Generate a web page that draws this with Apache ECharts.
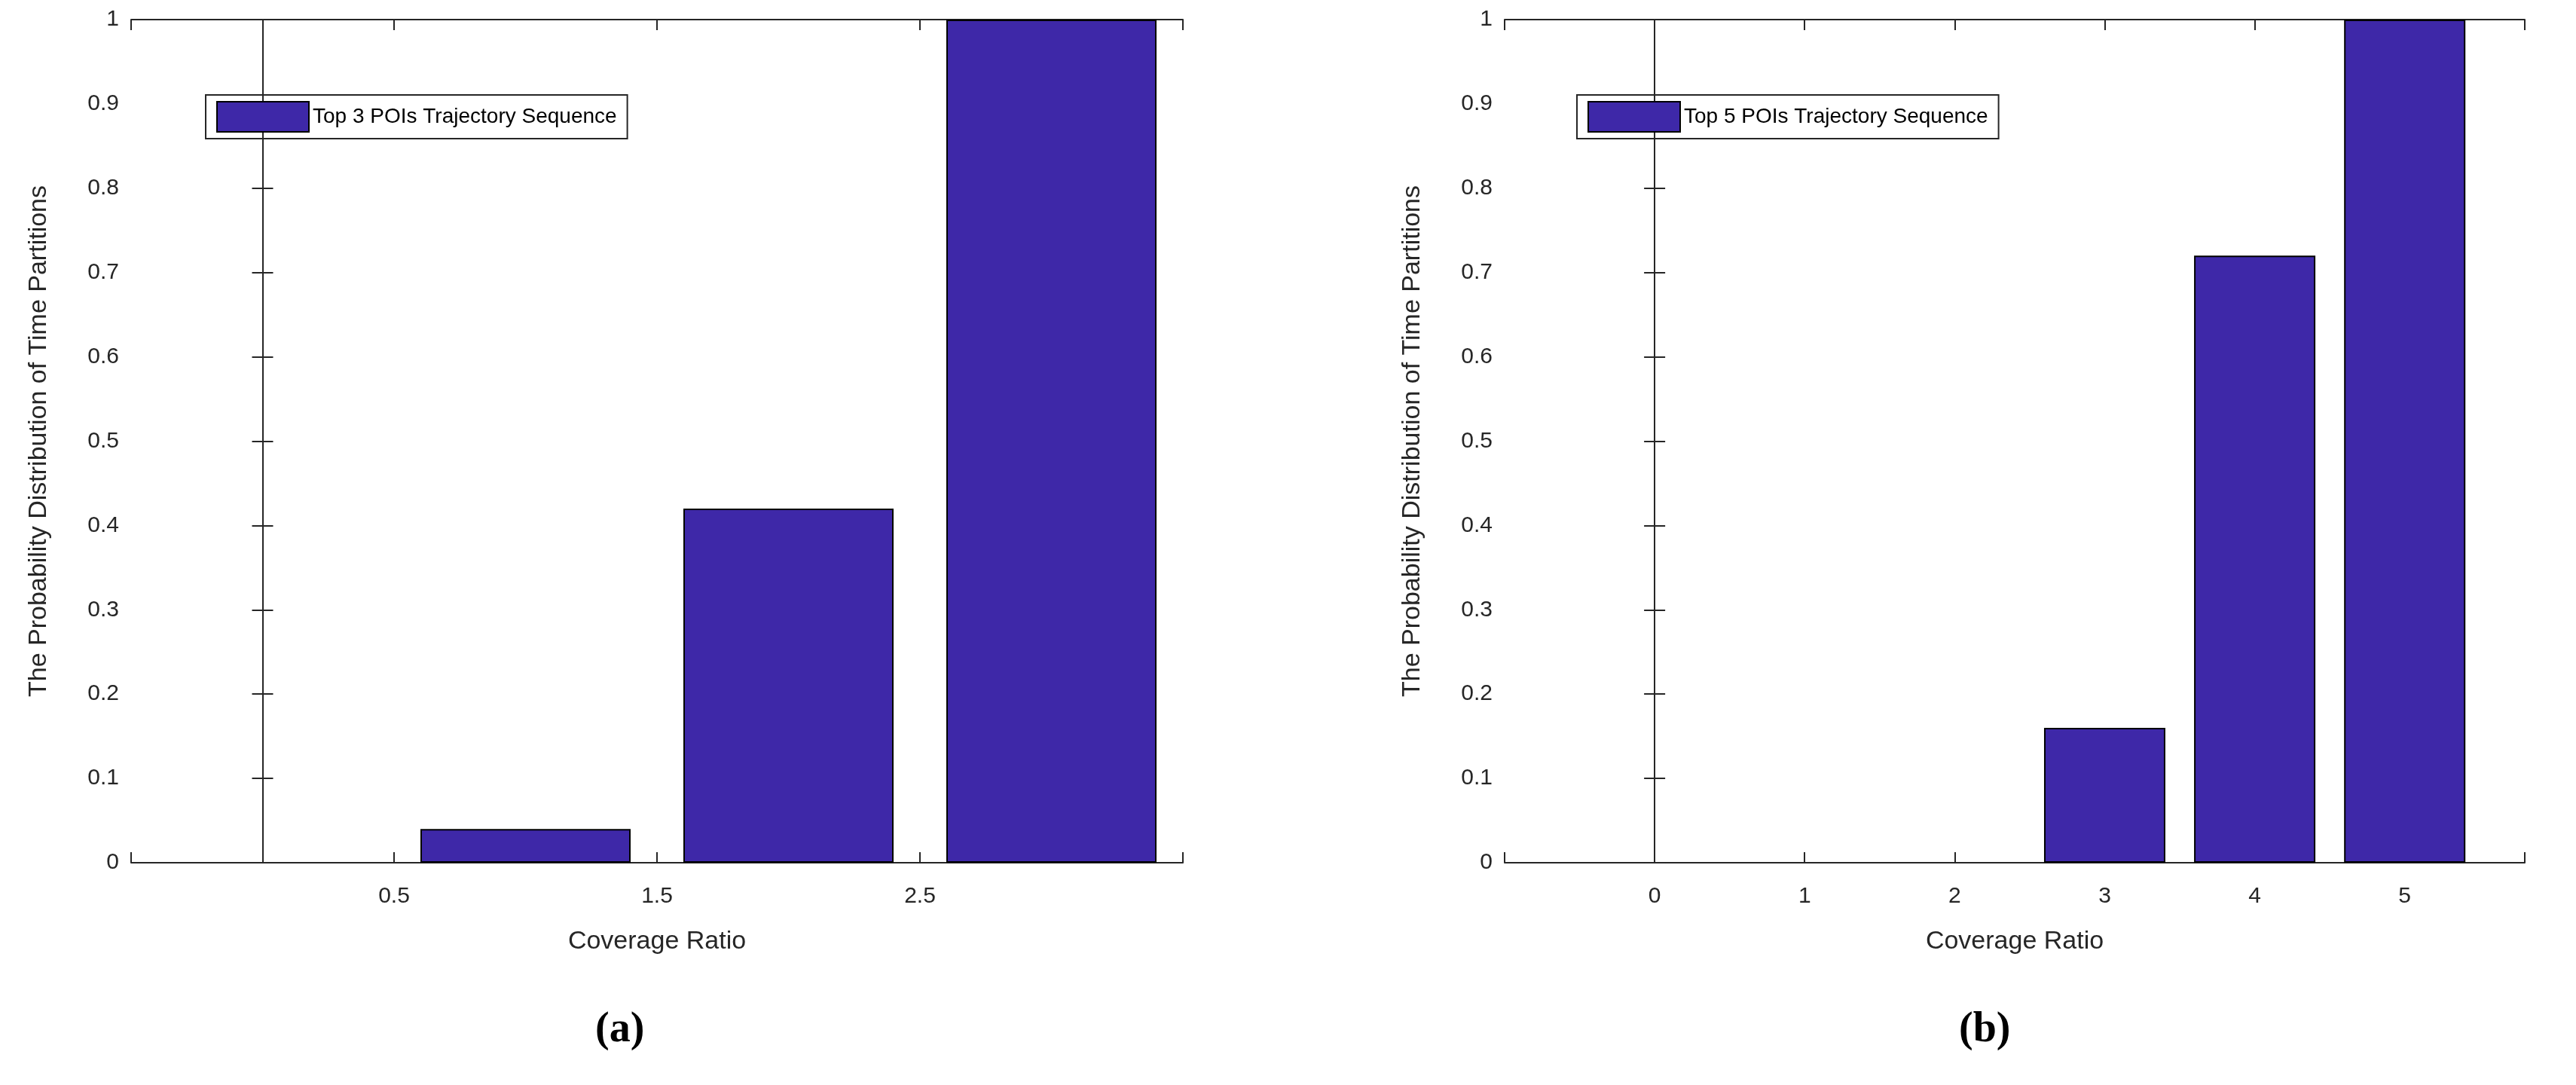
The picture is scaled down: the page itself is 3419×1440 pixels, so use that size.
<!DOCTYPE html>
<html><head><meta charset="utf-8">
<script src="https://cdn.jsdelivr.net/npm/echarts@6/dist/echarts.min.js"></script>
<style>html,body{margin:0;background:#fff}#box{width:3419px;height:1440px}</style>
</head><body><div id="box"></div>
<script>
// data
var ratioA = [0, 1, 2, 3];
var probA = [0, 0.04, 0.42, 1];
var ratioB = [0, 1, 2, 3, 4, 5];
var probB = [0, 0, 0, 0.16, 0.72, 1];
var nameA = 'Top 3 POIs Trajectory Sequence';
var nameB = 'Top 5 POIs Trajectory Sequence';

function pairs(xs, ys){
    var out = [];
    for (var i = 0; i < xs.length; i++) {
        if (ys[i] > 0) out.push([xs[i], ys[i]]);
    }
    return out;
}

var txt = '#262626', font = 'Liberation Sans';
function xAx(idx, min, max, pos){
    return {type:'value', gridIndex:idx, min:min, max:max, interval:1, position:pos,
        name: pos == 'bottom' ? 'Coverage Ratio' : '', nameLocation:'middle', nameGap:88,
        nameTextStyle:{fontSize:34, color:txt, fontFamily:font},
        axisLine:{show:true, onZero:false, lineStyle:{color:txt, width:2}},
        axisTick:{show:true, inside:true, length:14, lineStyle:{color:txt, width:2}},
        axisLabel:{show: pos == 'bottom', fontSize:30, color:txt, fontFamily:font, margin:30,
            formatter:function(v){ return (v < 0 || v > max - 0.5) ? '' : v; }},
        splitLine:{show:false}};
}
function yAx(idx, pos){
    return {type:'value', gridIndex:idx, min:0, max:1, interval:0.1, position:pos,
        name: pos == 'left' ? 'The Probability Distribution of Time Partitions' : '',
        nameLocation:'middle', nameGap:105,
        nameTextStyle:{fontSize:34, color:txt, fontFamily:font},
        axisLine:{show:true, lineStyle:{color:txt, width:2}},
        axisTick:{show:true, inside:true, length:14, lineStyle:{color:txt, width:2}},
        axisLabel:{show: pos == 'left', fontSize:30, color:txt, fontFamily:font, margin:16,
            formatter:function(v){ return Math.round(v*10)/10; }},
        splitLine:{show:false}};
}

var chart = echarts.init(document.getElementById('box'));
chart.setOption({
    animation:false,
    backgroundColor:'#fff',
    grid:[
        {left:174, top:26, width:1396, height:1119},
        {left:1997, top:26, width:1354, height:1119}
    ],
    legend:[
        {data:[nameA], left:273, top:126, itemWidth:122, itemHeight:40, icon:'rect', itemGap:10,
         borderColor:txt, borderWidth:2, padding:[8,14,8,14], textStyle:{fontSize:28, color:'#000', fontFamily:font}},
        {data:[nameB], left:2093, top:126, itemWidth:122, itemHeight:40, icon:'rect', itemGap:10,
         borderColor:txt, borderWidth:2, padding:[8,14,8,14], textStyle:{fontSize:28, color:'#000', fontFamily:font}}
    ],
    xAxis:[xAx(0,-0.5,3.5,'bottom'), xAx(0,-0.5,3.5,'top'), xAx(1,-1,5.8,'bottom'), xAx(1,-1,5.8,'top')],
    yAxis:[yAx(0,'left'), yAx(0,'right'), yAx(1,'left'), yAx(1,'right')],
    series:[
        {name:nameA, type:'bar', xAxisIndex:0, yAxisIndex:0, barWidth:279, data:pairs(ratioA, probA),
         itemStyle:{color:'#3e28a8', borderColor:'#000', borderWidth:2}},
        {name:nameB, type:'bar', xAxisIndex:2, yAxisIndex:2, barWidth:161, data:pairs(ratioB, probB),
         itemStyle:{color:'#3e28a8', borderColor:'#000', borderWidth:2}}
    ],
    graphic:[
        {type:'text', left:790, top:1340, style:{text:'(a)', fontSize:56, fontWeight:'bold', fontFamily:'Liberation Serif', fill:'#000'}},
        {type:'text', left:2600, top:1340, style:{text:'(b)', fontSize:56, fontWeight:'bold', fontFamily:'Liberation Serif', fill:'#000'}}
    ]
});
</script></body></html>
